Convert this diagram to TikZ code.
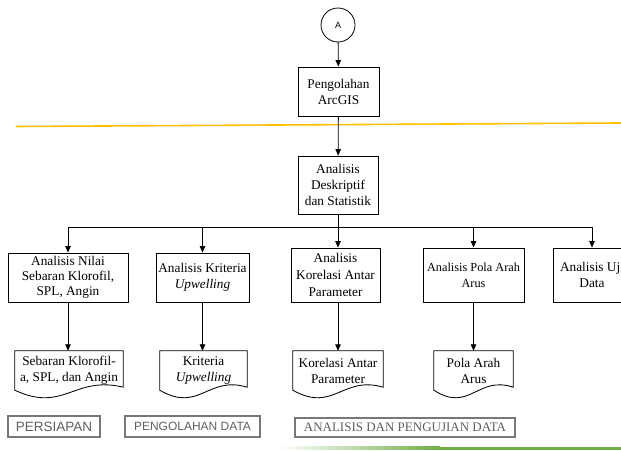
\documentclass[tikz,border=0pt]{standalone}
\usepackage{fontspec}
\setmainfont{Liberation Serif}
\newfontfamily\legsans{Liberation Sans}
\usetikzlibrary{arrows.meta,calc}
\definecolor{linegold}{RGB}{255,192,0}
\definecolor{legreen}{RGB}{112,173,71}
\definecolor{leggray}{RGB}{95,95,95}
\definecolor{legborder}{RGB}{120,120,120}
\tikzset{
  txt/.style={font=\fontsize{13.3}{16}\selectfont, align=center, inner sep=0pt},
  procbox/.style={txt, draw, line width=0.85pt, rectangle},
  docnode/.style={txt, rectangle},
  docline/.style={draw, line width=0.85pt},
  conn/.style={line width=0.8pt, -{Triangle[length=6.5pt,width=5.5pt]}},
  plainline/.style={line width=0.8pt},
  legbox/.style={draw=legborder, line width=1.1pt, text=leggray, inner sep=0pt},
}
\newcommand\docoutline[1]{%
  \draw[docline] (#1.south west) -- (#1.north west) -- (#1.north east) -- ($(#1.south east)+(0,-3)$)
   .. controls ($(#1.south west)!0.55!(#1.south east)+(0,-15)$) and ($(#1.south west)!0.45!(#1.south east)+(0,23)$) .. (#1.south west) -- cycle;}
\begin{document}
\begin{tikzpicture}[x=1pt,y=-1pt]
\useasboundingbox (0,0) rectangle (621,450);
\clip (0,0) rectangle (621,450);

% top part
\node[circle, draw, line width=0.8pt, minimum size=34pt, inner sep=0pt, font=\legsans\fontsize{9}{10}\selectfont] (A) at (338,25) {A};
\node[procbox, minimum width=81pt, minimum height=49pt] (arc) at (338.5,91.5) {Pengolahan\\ArcGIS};
\node[procbox, minimum width=80pt, minimum height=58pt] (desk) at (338,185) {Analisis\\Deskriptif\\dan Statistik};

% separator
\draw[linegold, line width=1.6pt] (16,126.5) -- (621,123);

\draw[conn] (A) -- (arc);
\draw[conn] (arc) -- (desk);

% row 1
\node[procbox, minimum width=120pt, minimum height=49pt, font=\fontsize{13.3}{15}\selectfont] (b1) at (68,277.5) {Analisis Nilai\\Sebaran Klorofil,\\SPL, Angin};
\node[procbox, minimum width=93pt, minimum height=49pt] (b2) at (202.5,277.5) {Analisis Kriteria\\\textit{Upwelling}};
\node[procbox, minimum width=89pt, minimum height=54pt, font=\fontsize{13.3}{17}\selectfont] (b3) at (335.5,275) {Analisis\\Korelasi Antar\\Parameter};
\node[procbox, minimum width=101pt, minimum height=54pt, font=\fontsize{12.3}{16}\selectfont] (b4) at (473.5,275) {Analisis Pola Arah\\Arus};
\node[procbox, minimum width=78pt, minimum height=54pt] (b5) at (592,275) {Analisis Uji\\Data};

% bus
\coordinate (bus0) at (338,227);
\draw[plainline] (desk.south) -- (bus0);
\draw[plainline] (b1.north |- bus0) -- (b5.north |- bus0);
\draw[conn] (b1.north |- bus0) -- (b1.north);
\draw[conn] (b2.north |- bus0) -- (b2.north);
\draw[conn] (bus0) -- (bus0 |- b3.north);
\draw[conn] (b4.north |- bus0) -- (b4.north);
\draw[conn] (b5.north |- bus0) -- (b5.north);

% row 2 documents
\node[docnode, minimum width=108pt, minimum height=39pt] (d1) at (69,370.5) {Sebaran Klorofil-\\a, SPL, dan Angin};
\node[docnode, minimum width=87pt, minimum height=39pt] (d2) at (203.5,370.5) {Kriteria\\\textit{Upwelling}};
\node[docnode, minimum width=90pt, minimum height=39pt] (d3) at (338,370.5) {Korelasi Antar\\Parameter};
\node[docnode, minimum width=79pt, minimum height=39pt] (d4) at (473.5,370.5) {Pola Arah\\Arus};
\docoutline{d1}
\docoutline{d2}
\docoutline{d3}
\docoutline{d4}

\draw[conn] (b1.south) -- (b1.south |- d1.north);
\draw[conn] (b2.south) -- (b2.south |- d2.north);
\draw[conn] (bus0 |- b3.south) -- (bus0 |- d3.north);
\draw[conn] (b4.south) -- (b4.south |- d4.north);

% legend
\node[legbox, minimum width=92pt, minimum height=21pt, font=\legsans\fontsize{13.5}{13.5}\selectfont] (l1) at (54,426.5) {PERSIAPAN};
\node[legbox, minimum width=135pt, minimum height=21pt, font=\legsans\fontsize{12}{12}\selectfont] (l2) at (192.5,426.5) {PENGOLAHAN DATA};
\node[legbox, minimum width=220pt, minimum height=19pt, font=\fontsize{13}{13}\selectfont] (l3) at (405,427.5) {ANALISIS DAN PENGUJIAN DATA};

% green rule
\shade[left color=white, right color=legreen] (280,446.5) rectangle (440,449.5);
\fill[legreen] (440,446.5) rectangle (621,449.5);
\end{tikzpicture}
\end{document}
